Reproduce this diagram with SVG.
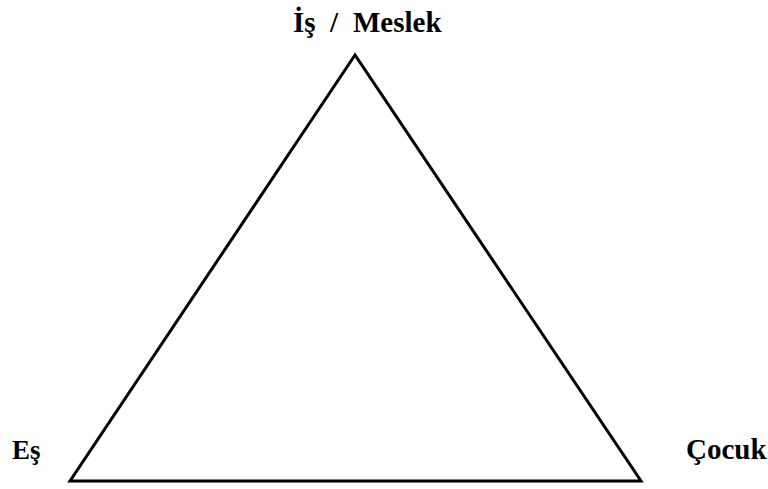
<svg xmlns="http://www.w3.org/2000/svg" width="768" height="489" viewBox="0 0 768 489">
<style>
text{font-family:'Liberation Serif','Times New Roman',serif;font-weight:700;font-size:29px;fill:#000}
.edge{fill:none;stroke:#000;stroke-width:3;stroke-linejoin:miter}
</style>
<rect width="768" height="489" fill="#fff"/>
<g id="connectors">
<polygon class="edge" points="355,55 70,481 641,481"/>
</g>
<g id="node-is"><text y="32"><tspan x="293">İş</tspan><tspan x="330">/</tspan><tspan x="353">Meslek</tspan></text></g>
<g id="node-es"><text x="12" y="459" style="font-size:27px">Eş</text></g>
<g id="node-cocuk"><text x="686" y="459">Çocuk</text></g>
</svg>
